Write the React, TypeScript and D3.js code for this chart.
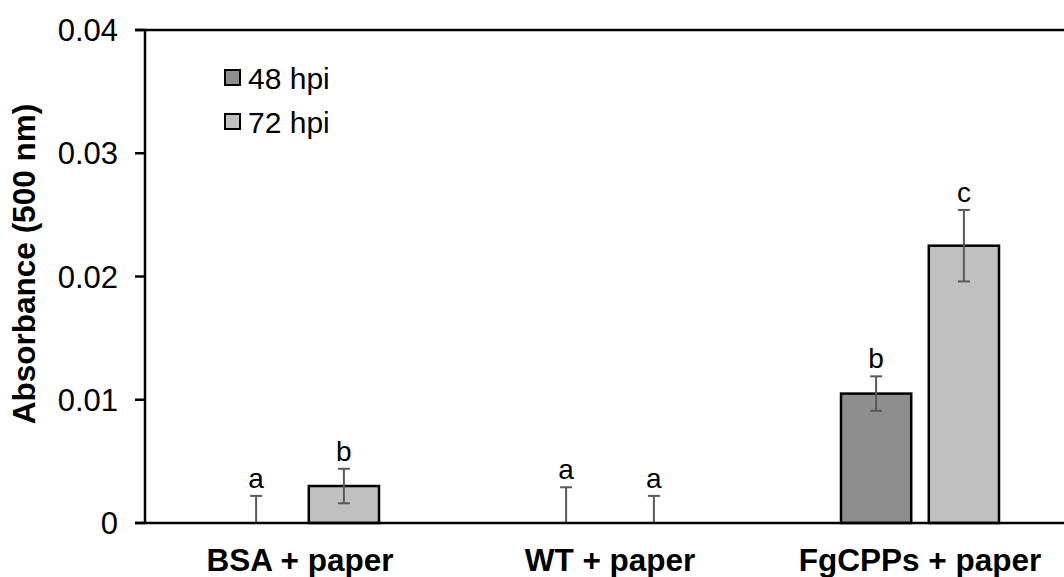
import React from 'react';
import * as d3 from 'd3';

const categories = ['BSA + paper', 'WT + paper', 'FgCPPs + paper'];
const seriesNames = ['48 hpi', '72 hpi'];
const seriesColors = ['#8e8e8e', '#c0c0c0'];
// mean values per series, per category
const values48 = [0, 0, 0.0105];
const values72 = [0.003, 0, 0.0225];
const errors48 = [0.0022, 0.0029, 0.0014];
const errors72 = [0.0014, 0.0022, 0.0029];
const letters48 = ['a', 'a', 'b'];
const letters72 = ['b', 'a', 'c'];
const yTicks = [0, 0.01, 0.02, 0.03, 0.04];
const yTickLabels = ['0', '0.01', '0.02', '0.03', '0.04'];

const W = 1064;
const H = 577;
const margin = { top: 30, left: 145, bottom: 54 };
const plotRight = 1075;
const font = 'Liberation Sans, Arial, sans-serif';

const App = () => {
  const y = d3.scaleLinear().domain([0, 0.04]).range([H - margin.bottom, margin.top]);
  const x0 = d3.scaleBand().domain(categories).range([margin.left, plotRight]).padding(0);
  const bw = x0.bandwidth();
  const x1 = d3
    .scaleBand()
    .domain(seriesNames)
    .range([bw / 2 - 79, bw / 2 + 79])
    .paddingInner(0.2)
    .paddingOuter(0);

  const series = [
    { name: seriesNames[0], values: values48, errors: errors48, letters: letters48, color: seriesColors[0] },
    { name: seriesNames[1], values: values72, errors: errors72, letters: letters72, color: seriesColors[1] },
  ];

  const y0 = y(0);

  return (
    <svg width={W} height={H} style={{ display: 'block', position: 'absolute', left: 0, top: 0, fontFamily: font }}>
      <rect width={W} height={H} fill="#fff" />

      {/* bars */}
      {series.map(s =>
        categories.map((c, i) => {
          const bx = (x0(c) ?? 0) + (x1(s.name) ?? 0);
          const v = s.values[i];
          if (v <= 0) return null;
          return (
            <rect
              key={`${s.name}-${c}`}
              x={bx}
              y={y(v)}
              width={x1.bandwidth()}
              height={y0 - y(v)}
              fill={s.color}
              stroke="#000"
              strokeWidth={2.5}
            />
          );
        })
      )}

      {/* error bars + letters */}
      {series.map(s =>
        categories.map((c, i) => {
          const cx = (x0(c) ?? 0) + (x1(s.name) ?? 0) + x1.bandwidth() / 2;
          const v = s.values[i];
          const e = s.errors[i];
          const top = y(v + e);
          const bot = y(Math.max(0, v - e));
          return (
            <g key={`err-${s.name}-${c}`}>
              <line x1={cx} x2={cx} y1={top} y2={bot} stroke="#595959" strokeWidth={2} />
              <line x1={cx - 6} x2={cx + 6} y1={top} y2={top} stroke="#595959" strokeWidth={2} />
              {v - e > 0 && <line x1={cx - 6} x2={cx + 6} y1={bot} y2={bot} stroke="#595959" strokeWidth={2} />}
              <text x={cx} y={top - 8} textAnchor="middle" fontSize={28} fill="#000">
                {s.letters[i]}
              </text>
            </g>
          );
        })
      )}

      {/* axes */}
      <line x1={margin.left} x2={margin.left} y1={margin.top} y2={y0} stroke="#000" strokeWidth={2.5} />
      <line x1={margin.left - 10} x2={plotRight} y1={y0} y2={y0} stroke="#000" strokeWidth={2.5} />
      <line x1={margin.left - 10} x2={plotRight} y1={margin.top} y2={margin.top} stroke="#000" strokeWidth={2.5} />
      {yTicks.map((t, i) => (
        <g key={`yt-${t}`}>
          <line x1={margin.left - 10} x2={margin.left} y1={y(t)} y2={y(t)} stroke="#000" strokeWidth={2.5} />
          <text x={118} y={y(t)} dy="0.36em" textAnchor="end" fontSize={31} fill="#000">
            {yTickLabels[i]}
          </text>
        </g>
      ))}

      {/* category labels */}
      {categories.map(c => (
        <text
          key={`xl-${c}`}
          x={(x0(c) ?? 0) + bw / 2}
          y={571}
          textAnchor="middle"
          fontSize={31.5}
          fontWeight="bold"
          fill="#000"
        >
          {c}
        </text>
      ))}

      {/* y title */}
      <text
        transform="translate(35, 264) rotate(-90)"
        textAnchor="middle"
        fontSize={31.5}
        fontWeight="bold"
        fill="#000"
      >
        Absorbance (500 nm)
      </text>

      {/* legend */}
      {series.map((s, i) => (
        <g key={`lg-${s.name}`} transform={`translate(225, ${70 + i * 44})`}>
          <rect x={0} y={0} width={15} height={15} fill={s.color} stroke="#000" strokeWidth={2} />
          <text x={23} y={8} dy="0.36em" fontSize={30} fill="#000">
            {s.name}
          </text>
        </g>
      ))}
    </svg>
  );
};

export default App;
